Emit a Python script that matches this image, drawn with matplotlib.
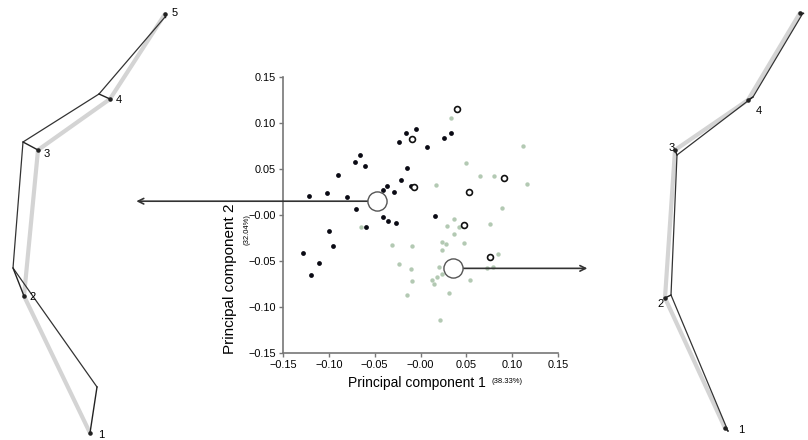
import matplotlib
matplotlib.use('Agg')
import matplotlib.pyplot as plt

plt.rcParams['font.family'] = ['Liberation Sans', 'DejaVu Sans']

# PCA scores
black_x = [-0.122, -0.102, -0.090, -0.080, -0.071, -0.066, -0.061, -0.070, -0.041, -0.037,
           -0.029, -0.024, -0.016, -0.005, -0.015, -0.021, -0.010, 0.007, 0.026, 0.033,
           -0.041, -0.036, -0.027, -0.059, -0.100, -0.095, -0.128, -0.111, -0.119, 0.016]
black_y = [0.021, 0.024, 0.043, 0.020, 0.058, 0.065, 0.053, 0.007, 0.027, 0.031,
           0.025, 0.079, 0.089, 0.093, 0.051, 0.038, 0.031, 0.074, 0.084, 0.089,
           -0.002, -0.007, -0.009, -0.013, -0.017, -0.034, -0.041, -0.052, -0.065, -0.001]

green_x = [0.033, 0.112, 0.050, 0.065, 0.080, 0.116, 0.017, 0.089, -0.065, -0.031,
           -0.009, -0.023, -0.010, -0.009, -0.015, 0.036, 0.029, 0.076, 0.042, 0.037,
           0.023, 0.028, 0.047, 0.023, 0.085, 0.073, 0.079, 0.020, 0.023, 0.018,
           0.013, 0.015, 0.042, 0.054, 0.031, 0.021]
green_y = [0.105, 0.075, 0.056, 0.042, 0.042, 0.034, 0.033, 0.008, -0.013, -0.033,
           -0.034, -0.053, -0.059, -0.072, -0.087, -0.004, -0.012, -0.010, -0.013, -0.021,
           -0.029, -0.031, -0.030, -0.038, -0.042, -0.058, -0.057, -0.056, -0.064, -0.067,
           -0.071, -0.075, -0.053, -0.071, -0.085, -0.114]

open_x = [-0.009, -0.007, 0.040, 0.091, 0.053, 0.047, 0.076]
open_y = [0.083, 0.030, 0.115, 0.040, 0.025, -0.011, -0.046]

# group means and where their arrows point
mean_x = [-0.048, 0.035]
mean_y = [0.015, -0.058]
arrow_end_x = [-0.310, 0.182]

ticks = [-0.15, -0.10, -0.05, 0.0, 0.05, 0.10, 0.15]
tick_labels = ['\u22120.15', '\u22120.10', '\u22120.05', '\u22120.00', '0.05', '0.10', '0.15']

# wireframe landmarks (figure pixel space), gray = mean shape, black = deformed shape
left_gray_x = [90, 24, 38, 110, 165]
left_gray_y = [433, 296, 150, 99, 14]
left_black_x = [97, 13, 23, 99, 165]
left_black_y = [387, 268, 142, 94, 17]
left_lab_x = [98, 29, 44, 116, 172]
left_lab_y = [435, 297, 154, 100, 13]

right_gray_x = [725, 665, 675, 748, 800]
right_gray_y = [428, 298, 150, 100, 13]
right_black_x = [728, 671, 677, 753, 803]
right_black_y = [431, 295, 155, 97, 13]
right_lab_x = [738, 657, 669, 756]
right_lab_y = [430, 304, 148, 111]
right_labels = ['1', '2', '3', '4']

W, H = 808, 440
fig = plt.figure(figsize=(W / 100, H / 100), dpi=100)

# overlay for the two wireframes
bg = fig.add_axes([0, 0, 1, 1])
bg.set_xlim(0, W)
bg.set_ylim(H, 0)
bg.axis('off')

for gx, gy, kx, ky in [(left_gray_x, left_gray_y, left_black_x, left_black_y),
                       (right_gray_x, right_gray_y, right_black_x, right_black_y)]:
    bg.plot(gx, gy, color='#d4d4d4', lw=3, solid_capstyle='round', zorder=1)
    bg.plot(kx, ky, color='#333333', lw=0.9, zorder=2)
    for i in range(len(gx)):
        bg.plot([gx[i], kx[i]], [gy[i], ky[i]], color='#222222', lw=1.0, zorder=3)
    bg.scatter(gx, gy, s=5, color='#222222', zorder=4)

for i in range(5):
    bg.text(left_lab_x[i], left_lab_y[i], str(i + 1), fontsize=8, va='center', ha='left')
for i in range(4):
    bg.text(right_lab_x[i], right_lab_y[i], right_labels[i], fontsize=8, va='center', ha='left')

# main PCA scatter
ax = fig.add_axes([283 / W, 1 - 353 / H, 275 / W, 276 / H])
ax.set_xlim(-0.15, 0.15)
ax.set_ylim(-0.15, 0.15)
ax.patch.set_alpha(0)

ax.scatter(green_x, green_y, s=10, color='#b3c9b3', lw=0, zorder=2)
ax.scatter(black_x, black_y, s=12, color='#0a0a14', lw=0, zorder=3)
ax.scatter(open_x, open_y, s=18, facecolor='white', edgecolor='#111111', lw=1.2, zorder=4)

for i in range(2):
    ax.annotate('', xy=(arrow_end_x[i], mean_y[i]), xytext=(mean_x[i], mean_y[i]),
                arrowprops=dict(arrowstyle='->', color='#333333', lw=1.2,
                                shrinkA=0, shrinkB=0),
                annotation_clip=False, zorder=5)
ax.scatter(mean_x, mean_y, s=190, facecolor='white', edgecolor='#555555', lw=1.0,
           zorder=6, clip_on=False)

for side in ['top', 'right']:
    ax.spines[side].set_visible(False)
for side in ['left', 'bottom']:
    ax.spines[side].set_color('#777777')
    ax.spines[side].set_linewidth(1.2)

ax.set_xticks(ticks)
ax.set_xticklabels(tick_labels)
ax.set_yticks(ticks)
ax.set_yticklabels(tick_labels)
ax.tick_params(direction='out', length=3, width=1, color='#777777', labelsize=7.8, pad=2)

ax.set_xlabel('Principal component 1', fontsize=10, labelpad=4)
ax.xaxis.label.set_position((0.487, 0))
ax.text(0.815, -0.105, '(38.33%)', transform=ax.transAxes, fontsize=5.5,
        ha='center', va='center')
ax.set_ylabel('Principal component 2', fontsize=11, labelpad=8)
ax.yaxis.label.set_position((0, 0.27))
ax.text(-0.131, 0.446, '(32.04%)', transform=ax.transAxes, fontsize=5.5,
        rotation=90, ha='center', va='center')

fig.savefig('out.png', dpi=100)
